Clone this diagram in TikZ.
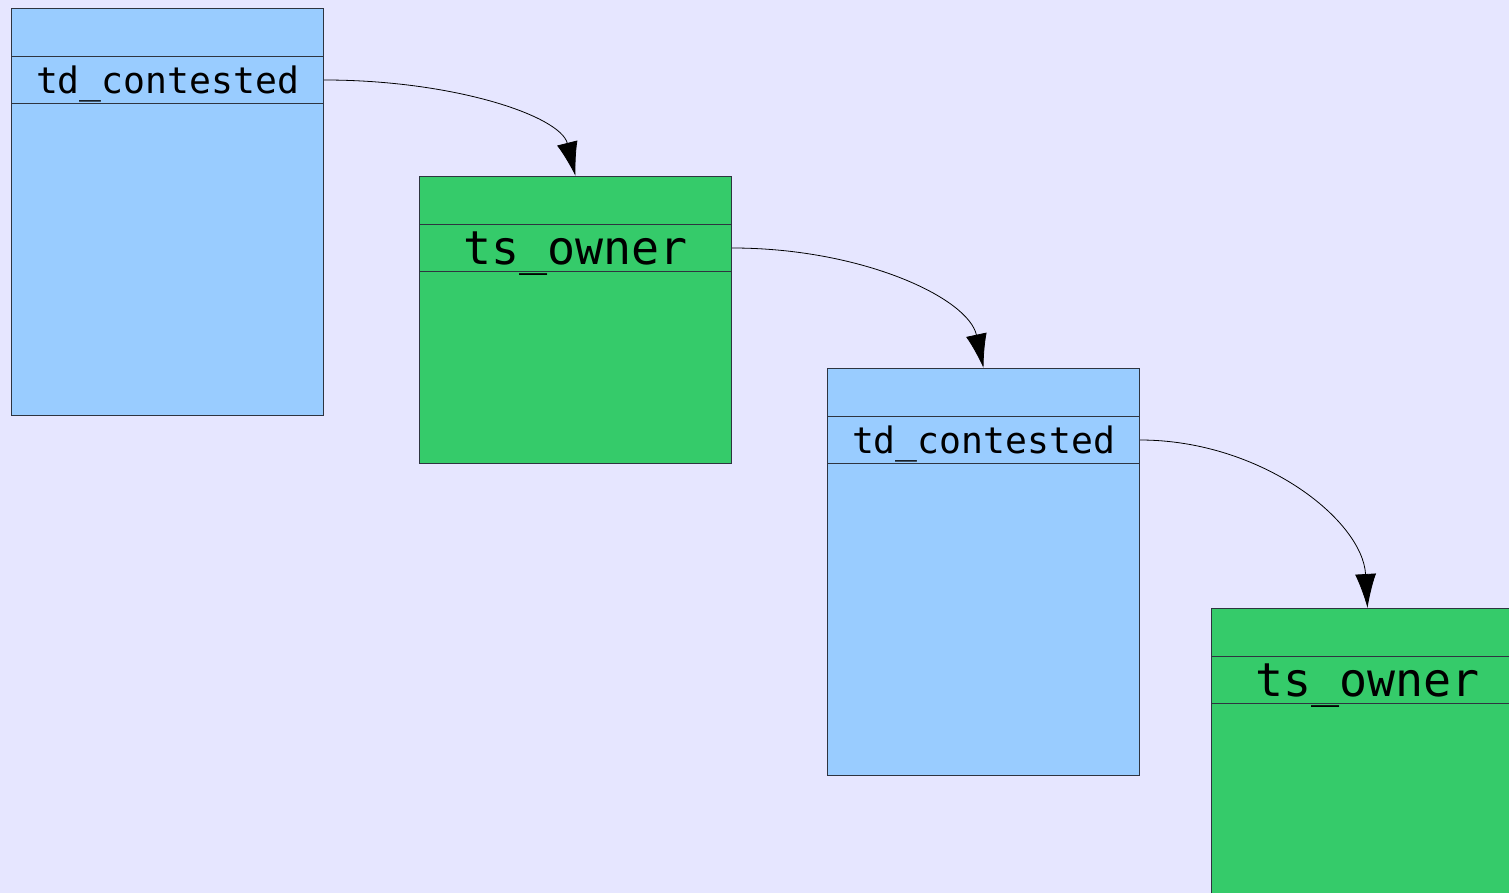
\documentclass[tikz,border=0pt]{standalone}
\usepackage{fontspec}
\newfontfamily\monofont{DejaVu Sans Mono}
\usetikzlibrary{arrows.meta}

\definecolor{pagebg}{HTML}{E6E6FF}
\definecolor{lockblue}{HTML}{99CCFF}
\definecolor{lockgreen}{HTML}{35CB6A}
\definecolor{edgegray}{HTML}{2E3440}

\tikzset{
  frame/.style={draw=edgegray, line width=0.5pt, anchor=north west, inner sep=0pt, minimum width=156pt},
  rowcell/.style={frame, minimum height=23.5pt, text depth=0pt, font=\monofont},
  link/.style={-{Latex[length=17pt,width=10.5pt]}, line width=0.4pt, black}
}

\newcommand{\tdfont}{\fontsize{18.2pt}{20pt}\selectfont}
\newcommand{\tsfont}{\fontsize{23.3pt}{26pt}\selectfont}

\begin{document}
\begin{tikzpicture}[x=0.5pt, y=-0.5pt]

    % Background and page size
    \fill[pagebg] (0,0) rectangle (1509,893);
    \clip (0,0) rectangle (1509,893);

    % First thread (blue)
    \node[frame, fill=lockblue, minimum height=203.5pt] (thrA) at (11,8) {};
    \node[rowcell, fill=lockblue] (tdA) at (11,56) {\tdfont td\_contested};

    % First turnstile (green)
    \node[frame, fill=lockgreen, minimum height=143.5pt] (tsB) at (419,176) {};
    \node[rowcell, fill=lockgreen] (ownB) at (419,224) {\tsfont ts\_owner};

    % Second thread (blue)
    \node[frame, fill=lockblue, minimum height=203.5pt] (thrC) at (827,368) {};
    \node[rowcell, fill=lockblue] (tdC) at (827,416) {\tdfont td\_contested};

    % Second turnstile (green, runs off the bottom)
    \node[frame, fill=lockgreen, minimum height=203.5pt] (tsD) at (1211,608) {};
    \node[rowcell, fill=lockgreen] (ownD) at (1211,656) {\tsfont ts\_owner};

    % Pointers between them
    \draw[link] (tdA.east) .. controls +(130,0) and +(-15,-60) .. (tsB.north);
    \draw[link] (ownB.east) .. controls +(130,0) and +(-15,-70) .. (thrC.north);
    \draw[link] (tdC.east) .. controls +(121,0) and +(-5,-88) .. (tsD.north);

\end{tikzpicture}
\end{document}
